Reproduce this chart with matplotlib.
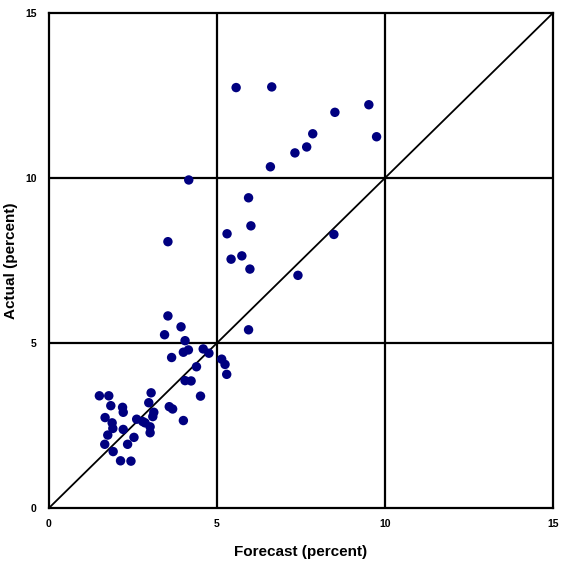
import matplotlib
matplotlib.use("Agg")
import matplotlib.pyplot as plt

# forecast vs actual values (percent)
forecast = [5.57, 6.63, 8.51, 9.52, 9.75, 7.85, 7.67, 7.32, 6.59, 5.94,
            4.16, 6.01, 5.30, 3.54, 5.74, 5.42, 5.98, 8.48, 7.41,
            3.54, 3.93, 3.44, 5.94, 4.05, 4.15, 4.00, 4.59, 4.76, 3.65,
            5.14, 5.24, 5.29, 4.39, 4.05, 4.23, 4.51, 4.00,
            3.04, 2.97, 3.58, 3.68, 3.12, 3.09, 2.61, 2.79, 2.86, 3.01,
            3.01, 1.50, 1.78, 1.84, 2.19, 2.21, 1.67, 1.88, 1.90, 2.21,
            1.75, 1.66, 1.91, 2.13, 2.44, 2.53, 2.34]
actual = [12.74, 12.76, 11.99, 12.22, 11.25, 11.34, 10.94, 10.76, 10.34, 9.40,
          9.94, 8.55, 8.31, 8.07, 7.64, 7.54, 7.24, 8.29, 7.05,
          5.82, 5.49, 5.25, 5.40, 5.07, 4.79, 4.72, 4.82, 4.69, 4.56,
          4.51, 4.35, 4.05, 4.28, 3.86, 3.85, 3.39, 2.65,
          3.49, 3.19, 3.07, 3.00, 2.90, 2.77, 2.69, 2.62, 2.58, 2.46,
          2.28, 3.40, 3.40, 3.10, 3.05, 2.90, 2.74, 2.58, 2.41, 2.38,
          2.21, 1.93, 1.71, 1.43, 1.42, 2.14, 1.93]
ticks = [0, 5, 10, 15]

plt.rcParams['font.family'] = ['Liberation Sans', 'DejaVu Sans']

fig = plt.figure(figsize=(5.61, 5.65), dpi=100)
ax = fig.add_axes([0.0873, 0.1009, 0.8984, 0.8761])

# reference grid and 45-degree line
for t in ticks[1:-1]:
    ax.axvline(t, color='black', lw=1.6, zorder=1)
    ax.axhline(t, color='black', lw=1.6, zorder=1)
ax.plot([0, 15], [0, 15], color='black', lw=1.3, zorder=2)

ax.scatter(forecast, actual, s=46, color='#000080', edgecolors='none', zorder=3)

ax.set_xlim(0, 15)
ax.set_ylim(0, 15)
ax.set_xticks(ticks)
ax.set_yticks(ticks)
ax.tick_params(length=0, labelsize=7.5)
ax.tick_params(axis='x', pad=8)
ax.tick_params(axis='y', pad=9)
for lab in ax.get_xticklabels() + ax.get_yticklabels():
    lab.set_fontweight('bold')
for sp in ax.spines.values():
    sp.set_linewidth(1.6)

ax.set_xlabel("Forecast (percent)", fontsize=11, fontweight='bold')
ax.set_ylabel("Actual (percent)", fontsize=11, fontweight='bold')
ax.xaxis.set_label_coords(0.5, -0.075)
ax.yaxis.set_label_coords(-0.062, 0.5)

plt.savefig("out.png", dpi=100)
plt.close(fig)
